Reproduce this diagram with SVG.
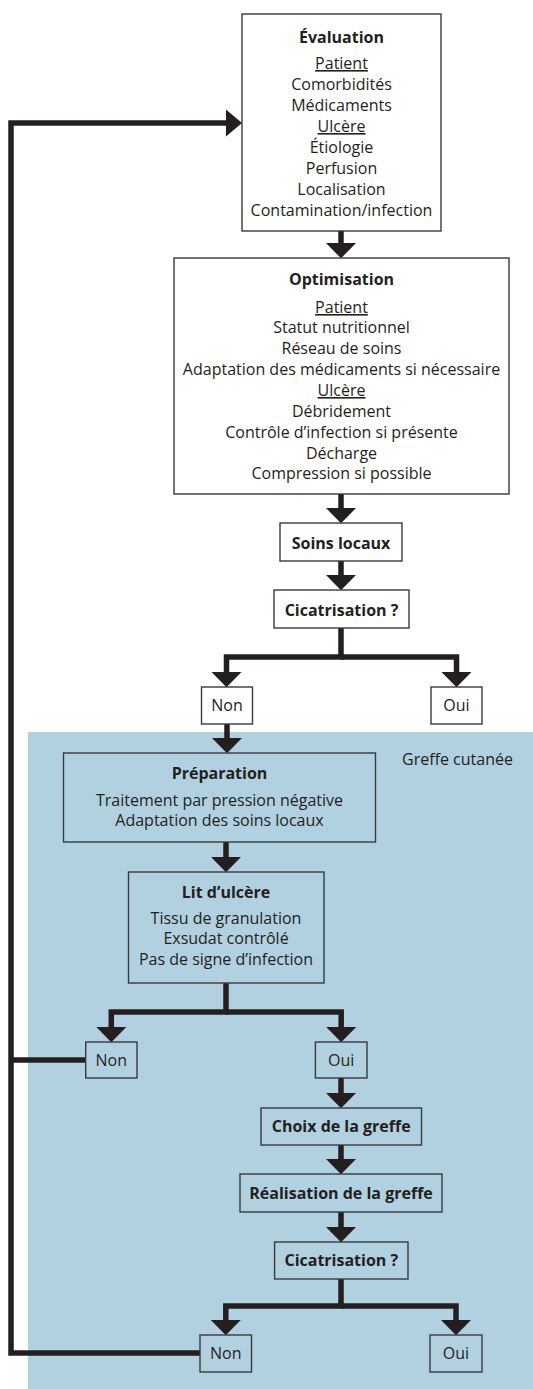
<svg xmlns="http://www.w3.org/2000/svg" width="533" height="1389" viewBox="0 0 533 1389">
  <style>
    text { font-family: "Open Sans", "Noto Sans", "Liberation Sans", sans-serif; font-size: 16px; fill: #231f20; text-anchor: middle; }
    .t { font-weight: bold; }
    .u { text-decoration: underline; }
    .box { fill: #ffffff; stroke: #3a3a3a; stroke-width: 1.4; }
    .bbox { fill: none; stroke: #3a3a3a; stroke-width: 1.4; }
    .c { fill: none; stroke: #231f20; stroke-width: 5.5; stroke-linejoin: miter; }
  </style>
  <defs>
    <marker id="ah" markerUnits="userSpaceOnUse" viewBox="0 -16 17 32" refX="1" refY="0" markerWidth="17" markerHeight="32" orient="auto">
      <polygon points="0,-15.5 15.8,0 0,15.5" fill="#231f20"/>
    </marker>
    <marker id="ahs" markerUnits="userSpaceOnUse" viewBox="0 -14 17 28" refX="1" refY="0" markerWidth="17" markerHeight="28" orient="auto">
      <polygon points="0,-13.5 16,0 0,13.5" fill="#231f20"/>
    </marker>
  </defs>

  <rect id="zone-greffe" x="28" y="732" width="505" height="657" fill="#b1d0e0"/>
  <text x="402" y="765" style="text-anchor:start">Greffe cutanée</text>

  <g id="connectors">
    <path class="c" d="M341,231 V243.5" marker-end="url(#ah)"/>
    <path class="c" d="M341,494 V508.5" marker-end="url(#ah)"/>
    <path class="c" d="M341,561 V575.5" marker-end="url(#ah)"/>
    <path class="c" d="M341,628 V657 H226.5 V672.5" marker-end="url(#ah)"/>
    <path class="c" d="M341,657 H456.5 V672.5" marker-end="url(#ah)"/>
    <path class="c" d="M227,724 V738.5" marker-end="url(#ah)"/>
    <path class="c" d="M226,842 V857.5" marker-end="url(#ah)"/>
    <path class="c" d="M226,983 V1012 H111.3 V1027.5" marker-end="url(#ah)"/>
    <path class="c" d="M226,1012 H341.2 V1027.5" marker-end="url(#ah)"/>
    <path class="c" d="M341,1078 V1093.5" marker-end="url(#ah)"/>
    <path class="c" d="M341,1145 V1159.5" marker-end="url(#ah)"/>
    <path class="c" d="M341,1212 V1227.5" marker-end="url(#ah)"/>
    <path class="c" d="M341,1279 V1306 H225.8 V1320.5" marker-end="url(#ah)"/>
    <path class="c" d="M341,1306 H456 V1320.5" marker-end="url(#ah)"/>
    <path class="c" d="M200,1353 H11 V123 H227" marker-end="url(#ahs)"/>
    <path class="c" d="M85.7,1060 H11"/>
  </g>

  <g id="evaluation">
    <rect class="box" x="242" y="14" width="199" height="217"/>
    <text class="t" x="341.5" y="43">Évaluation</text>
    <text class="u" x="341.5" y="69">Patient</text>
    <text x="341.5" y="90">Comorbidités</text>
    <text x="341.5" y="111">Médicaments</text>
    <text class="u" x="341.5" y="132">Ulcère</text>
    <text x="341.5" y="153">Étiologie</text>
    <text x="341.5" y="174">Perfusion</text>
    <text x="341.5" y="195">Localisation</text>
    <text x="341.5" y="216">Contamination/infection</text>
  </g>

  <g id="optimisation">
    <rect class="box" x="174" y="258" width="335" height="236"/>
    <text class="t" x="341.5" y="285">Optimisation</text>
    <text class="u" x="341.5" y="313">Patient</text>
    <text x="341.5" y="333">Statut nutritionnel</text>
    <text x="341.5" y="354">Réseau de soins</text>
    <text x="341.5" y="375">Adaptation des médicaments si nécessaire</text>
    <text class="u" x="341.5" y="396">Ulcère</text>
    <text x="341.5" y="417">Débridement</text>
    <text x="341.5" y="438">Contrôle d’infection si présente</text>
    <text x="341.5" y="459">Décharge</text>
    <text x="341.5" y="479">Compression si possible</text>
  </g>

  <g id="soins-locaux">
    <rect class="box" x="280" y="523" width="122" height="38"/>
    <text class="t" x="341" y="549">Soins locaux</text>
  </g>

  <g id="cicatrisation-1">
    <rect class="box" x="274" y="590" width="135" height="38"/>
    <text class="t" x="341.5" y="616">Cicatrisation ?</text>
  </g>

  <g id="non-1">
    <rect class="box" x="201.5" y="687" width="51" height="37"/>
    <text x="227" y="711">Non</text>
  </g>

  <g id="oui-1">
    <rect class="box" x="431" y="687" width="51" height="37"/>
    <text x="456.5" y="711">Oui</text>
  </g>

  <g id="preparation">
    <rect class="bbox" x="63.5" y="753" width="312" height="89"/>
    <text class="t" x="219.5" y="779">Préparation</text>
    <text x="219.5" y="806">Traitement par pression négative</text>
    <text x="219.5" y="826">Adaptation des soins locaux</text>
  </g>

  <g id="lit-ulcere">
    <rect class="bbox" x="128.5" y="872" width="195.5" height="111"/>
    <text class="t" x="226" y="898">Lit d’ulcère</text>
    <text x="226" y="924">Tissu de granulation</text>
    <text x="226" y="944">Exsudat contrôlé</text>
    <text x="226" y="965">Pas de signe d’infection</text>
  </g>

  <g id="non-2">
    <rect class="bbox" x="85.7" y="1042" width="51.3" height="36"/>
    <text x="111.3" y="1066">Non</text>
  </g>

  <g id="oui-2">
    <rect class="bbox" x="315.4" y="1042" width="51.6" height="36"/>
    <text x="341.2" y="1066">Oui</text>
  </g>

  <g id="choix-greffe">
    <rect class="bbox" x="261" y="1108" width="160.5" height="37"/>
    <text class="t" x="341.2" y="1132">Choix de la greffe</text>
  </g>

  <g id="realisation-greffe">
    <rect class="bbox" x="240" y="1174" width="202" height="38"/>
    <text class="t" x="341" y="1199">Réalisation de la greffe</text>
  </g>

  <g id="cicatrisation-2">
    <rect class="bbox" x="274.6" y="1242" width="133.4" height="37"/>
    <text class="t" x="341.3" y="1266">Cicatrisation ?</text>
  </g>

  <g id="non-3">
    <rect class="bbox" x="200" y="1335" width="51.5" height="37"/>
    <text x="225.8" y="1359">Non</text>
  </g>

  <g id="oui-3">
    <rect class="bbox" x="430" y="1335" width="52" height="37"/>
    <text x="456" y="1359">Oui</text>
  </g>
</svg>
